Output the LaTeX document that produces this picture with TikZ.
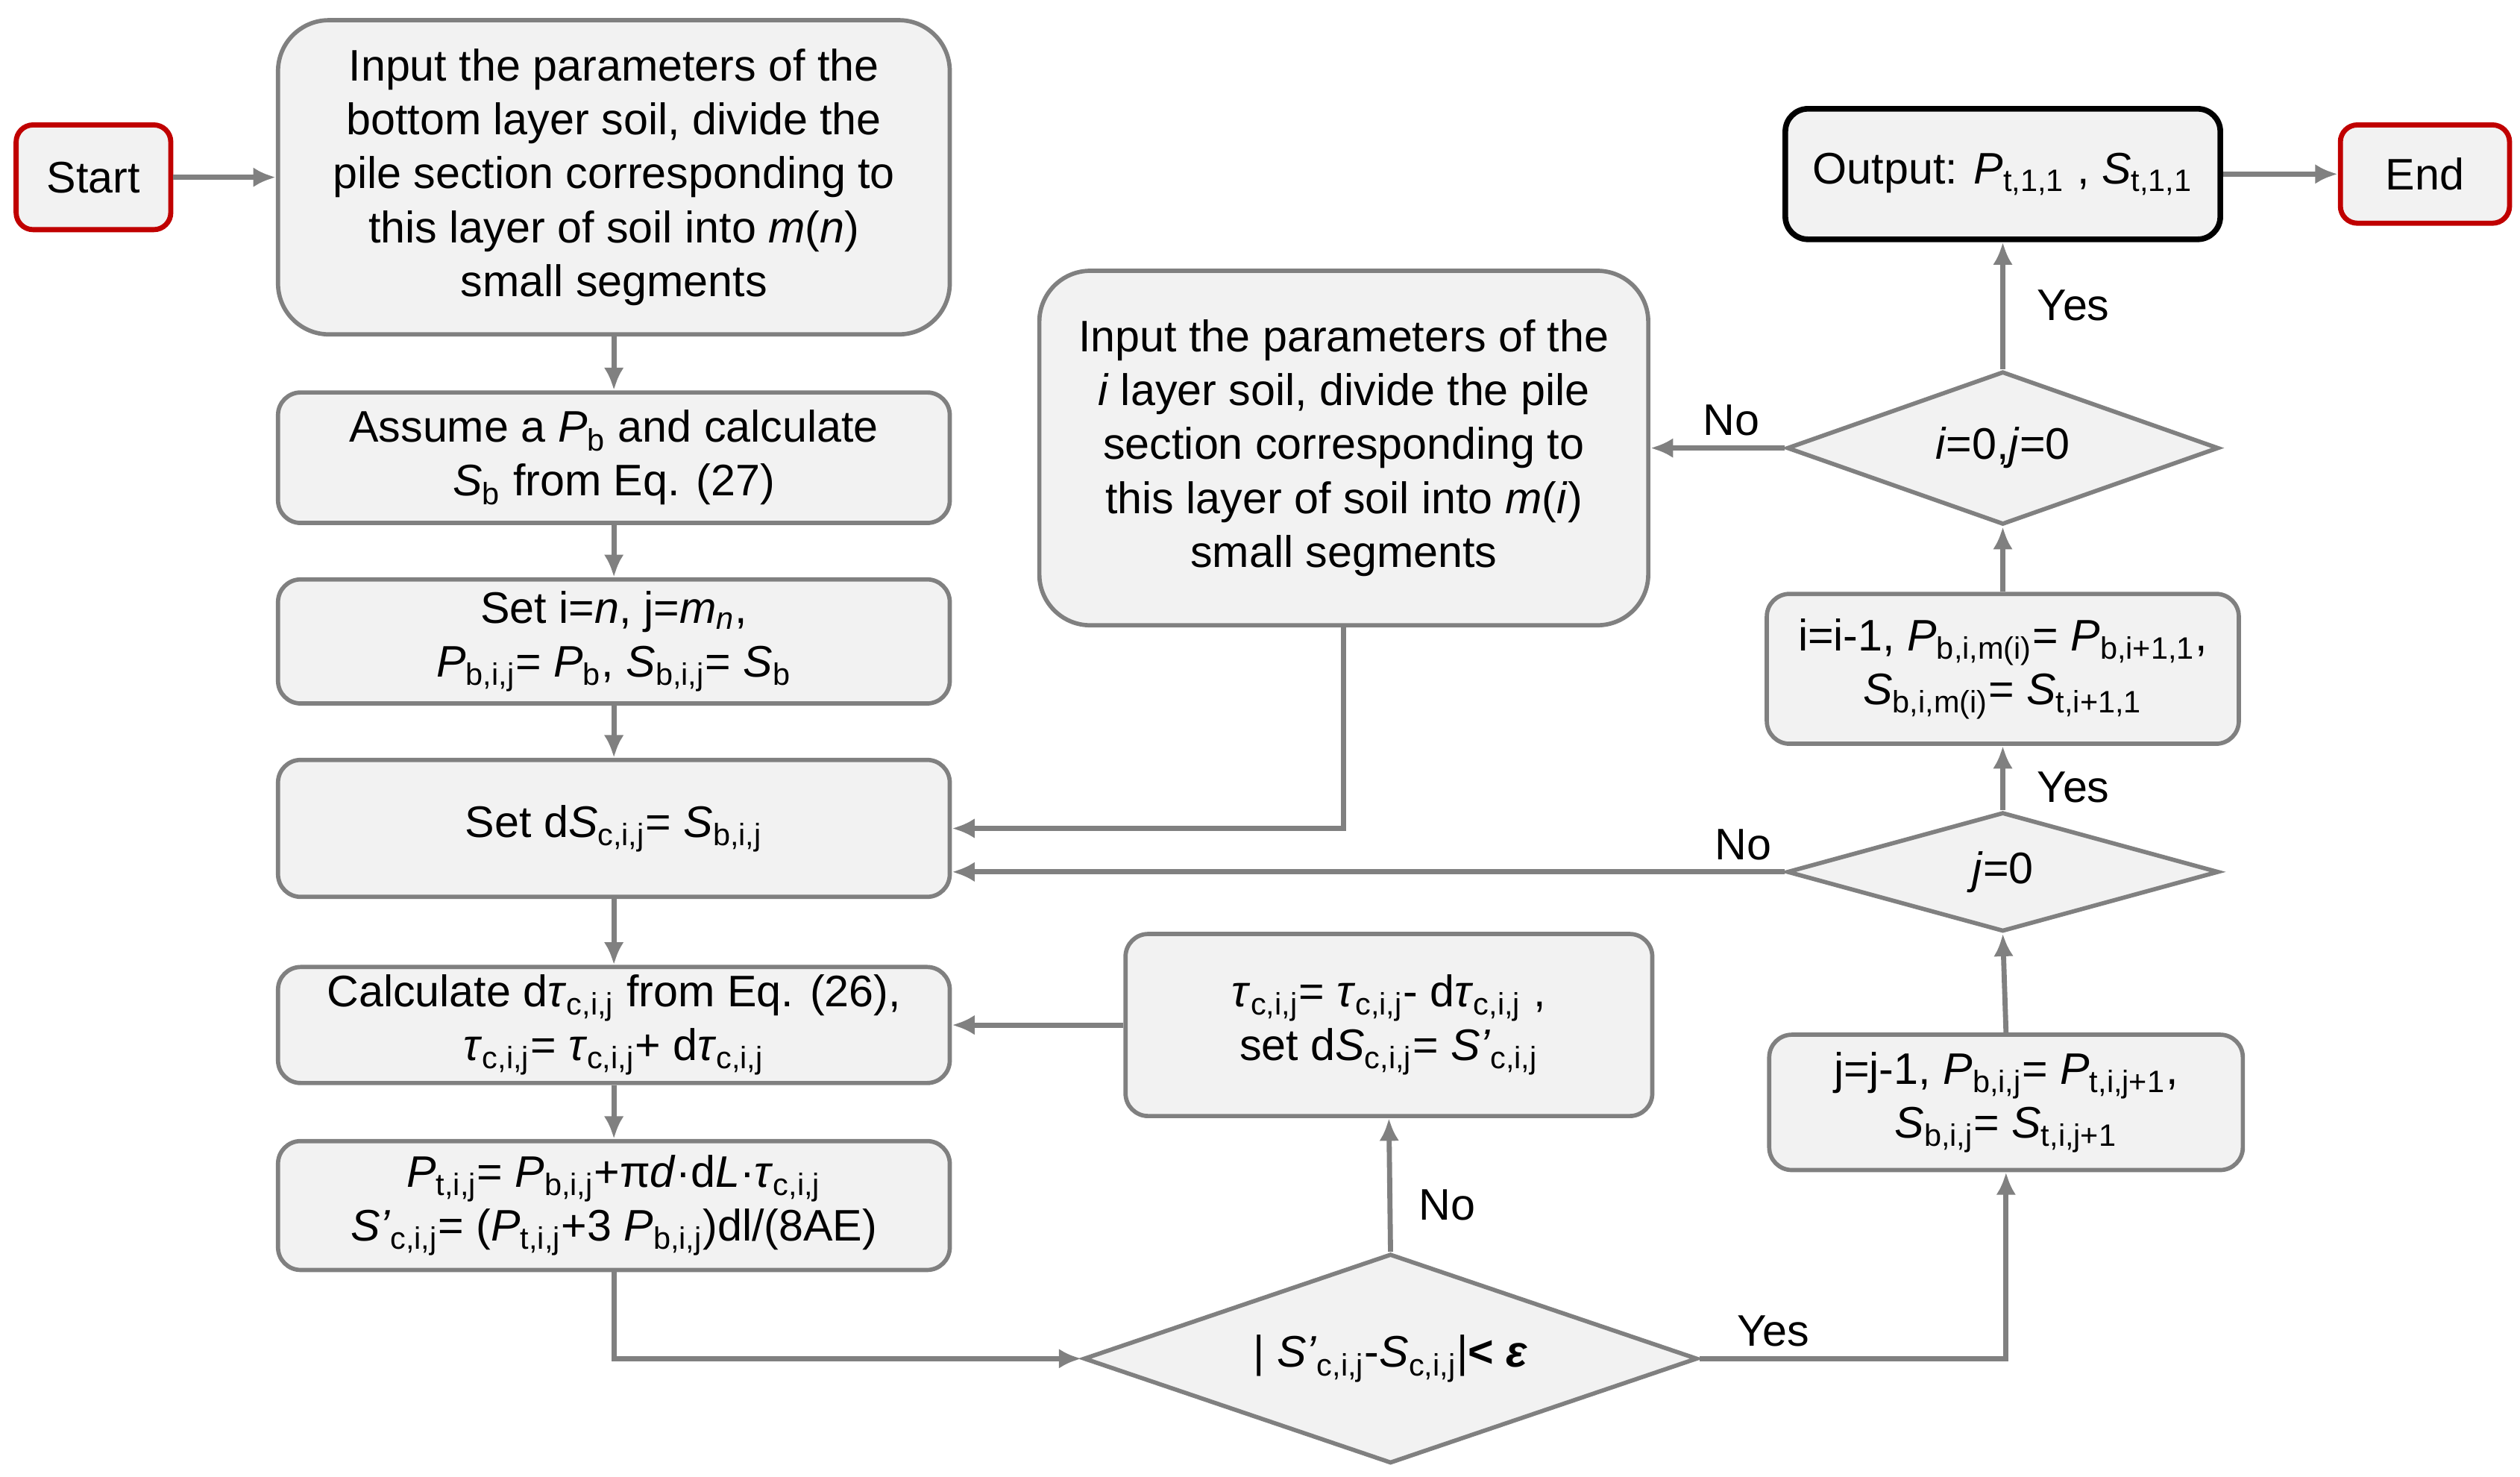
\documentclass[tikz,border=0pt]{standalone}
\usepackage{fontspec}
\setmainfont{Liberation Sans}
\usetikzlibrary{shapes.geometric,arrows.meta}
\newcommand\I[1]{\textit{#1}}
\newcommand\s[1]{\textsubscript{#1}}
\definecolor{bx}{RGB}{242,242,242}
\definecolor{ln}{RGB}{128,128,128}
\definecolor{rd}{RGB}{192,0,0}
\begin{document}
\begin{tikzpicture}[x=0.02cm,y=-0.02cm,font=\fontsize{15.6}{19}\selectfont,
 box/.style={draw=ln,line width=1.5pt,fill=bx,rounded corners=8pt,align=center,inner sep=2pt},
 big/.style={box,rounded corners=18pt},
 term/.style={draw=rd,line width=1.8pt,fill=bx,rounded corners=6pt},
 dia/.style={diamond,draw=ln,line width=1.5pt,fill=bx,aspect=2.9,inner sep=0pt},
 ar/.style={draw=ln,line width=1.8pt,-{Latex[length=8pt,width=7pt]}},
 lab/.style={font=\fontsize{15.6}{17}\selectfont}]
\useasboundingbox (0,0) rectangle (1564,916);
\node[term,minimum width=1.92cm,minimum height=1.3cm] (start) at (58,110) {Start};
\node[big,minimum width=8.34cm,minimum height=3.9cm] (in1) at (381,110) {Input the parameters of the\\bottom layer soil, divide the\\pile section corresponding to\\this layer of soil into \I{m}(\I{n})\\small segments};
\node[box,minimum width=8.34cm,minimum height=1.62cm] (as) at (381,284) {Assume a \I{P}\s{b} and calculate\\\I{S}\s{b} from Eq. (27)};
\node[box,minimum width=8.34cm,minimum height=1.54cm] (set) at (381,398) {Set i=\I{n}, j=\I{m\s{n}},\\\I{P}\s{b,i,j}= \I{P}\s{b}, \I{S}\s{b,i,j}= \I{S}\s{b}};
\node[box,minimum width=8.34cm,minimum height=1.7cm] (ds) at (381,514) {Set d\I{S}\s{c,i,j}= \I{S}\s{b,i,j}};
\node[box,minimum width=8.34cm,minimum height=1.44cm] (cal) at (381,636) {Calculate d\I{τ}\s{c,i,j} from Eq. (26),\\\I{τ}\s{c,i,j}= \I{τ}\s{c,i,j}+ d\I{τ}\s{c,i,j}};
\node[box,minimum width=8.34cm,minimum height=1.6cm] (pt) at (381,748) {\I{P}\s{t,i,j}= \I{P}\s{b,i,j}+π\I{d}·d\I{L}·\I{τ}\s{c,i,j}\\\I{S’}\s{c,i,j}= (\I{P}\s{t,i,j}+3 \I{P}\s{b,i,j})dl/(8AE)};
\node[dia,minimum width=7.62cm,minimum height=2.6cm] (d1) at (863,843) {| \I{S’}\s{c,i,j}-\I{S}\s{c,i,j}|\textbf{< \I{ε}}};
\node[box,minimum width=6.54cm,minimum height=2.26cm] (tau) at (862,636) {\I{τ}\s{c,i,j}= \I{τ}\s{c,i,j}- d\I{τ}\s{c,i,j} ,\\set d\I{S}\s{c,i,j}= \I{S’}\s{c,i,j}};
\node[big,minimum width=7.56cm,minimum height=4.4cm] (ini) at (834,278) {Input the parameters of the\\\I{i} layer soil, divide the pile\\section corresponding to\\this layer of soil into \I{m}(\I{i})\\small segments};
\node[box,draw=black,line width=2pt,minimum width=5.4cm,minimum height=1.62cm] (out) at (1243,108) {Output: \I{P}\s{t,1,1} , \I{S}\s{t,1,1}};
\node[term,minimum width=2.1cm,minimum height=1.22cm] (end) at (1505,108) {End};
\node[dia,minimum width=5.36cm,minimum height=1.9cm] (d3) at (1243,278) {\I{i}=0,\I{j}=0};
\node[box,minimum width=5.86cm,minimum height=1.86cm] (ii) at (1243,415) {i=i-1, \I{P}\s{b,i,m(i)}= \I{P}\s{b,i+1,1},\\\I{S}\s{b,i,m(i)}= \I{S}\s{t,i+1,1}};
\node[dia,minimum width=5.36cm,minimum height=1.48cm] (d2) at (1243,541) {\I{j}=0};
\node[box,minimum width=5.88cm,minimum height=1.68cm] (jj) at (1245,684) {j=j-1, \I{P}\s{b,i,j}= \I{P}\s{t,i,j+1},\\\I{S}\s{b,i,j}= \I{S}\s{t,i,j+1}};
\draw[ar] (start) -- (in1);
\draw[ar] (in1) -- (as);
\draw[ar] (as) -- (set);
\draw[ar] (set) -- (ds);
\draw[ar] (ds) -- (cal);
\draw[ar] (cal) -- (pt);
\draw[ar] (pt.south) |- (d1.west);
\draw[ar] (d1.north) -- node[lab,right=6pt,pos=0.35]{No} (tau.south);
\draw[ar] (tau.west) -- (cal.east);
\draw[ar] (d1.east) -| node[lab,above,pos=0.12]{Yes} (jj.south);
\draw[ar] (jj.north) -- (d2.south);
\draw[ar] (d2.north) -- node[lab,right=8pt,pos=0.35]{Yes} (ii.south);
\draw[ar] (d2.west) -- node[lab,above,pos=0.05]{No} (ds.east |- d2.west);
\draw[ar] (ii.north) -- (d3.south);
\draw[ar] (d3.north) -- node[lab,right=8pt]{Yes} (out.south);
\draw[ar] (d3.west) -- node[lab,above,pos=0.4]{No} (ini.east);
\draw[ar] (ini.south) |- (ds.east);
\draw[ar] (out) -- (end);
\end{tikzpicture}
\end{document}
